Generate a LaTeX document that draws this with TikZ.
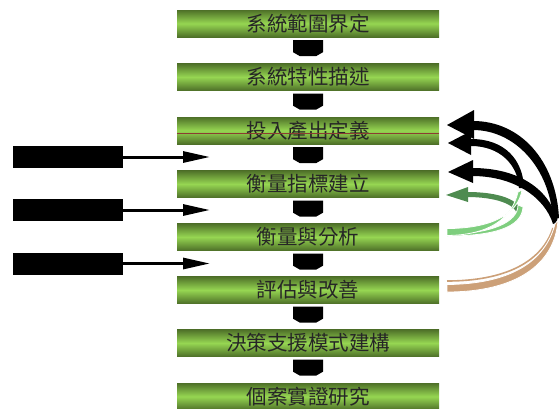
\documentclass[tikz,border=0pt]{standalone}
\usepackage{fontspec}
\newfontfamily\cjk{Noto Sans CJK TC}
\usetikzlibrary{calc,arrows.meta}
\definecolor{gdark}{RGB}{78,112,40}
\definecolor{glight}{RGB}{150,214,82}
\definecolor{arrgreen}{RGB}{78,139,80}
\definecolor{lightgrn}{RGB}{126,206,126}
\definecolor{tan}{RGB}{204,160,120}
\definecolor{redline}{RGB}{140,60,50}
\begin{document}
\begin{tikzpicture}[x=1pt,y=-1pt,
  stage/.style={minimum width=262pt,minimum height=27pt,inner sep=0pt,
    top color=gdark,bottom color=gdark,middle color=glight,
    font=\cjk\fontsize{20.5}{20.5}\selectfont,text=black!85},
  blk/.style={fill=black,minimum width=110pt,minimum height=22pt,inner sep=0pt},
  feed/.style={line width=3pt,-{Triangle[length=27pt,width=11pt]}},
  downblk/.style={fill=black}]
\useasboundingbox (0,0) rectangle (559,408);
\clip (0,0) rectangle (559,408);
% stages
\node[stage] (s1) at (308,23.5) {系統範圍界定};
\node[stage] (s2) at (308,77) {系統特性描述};
\node[stage] (s3) at (308,130.5) {投入產出定義};
\node[stage] (s4) at (308,184) {衡量指標建立};
\node[stage] (s5) at (308,237) {衡量與分析};
\node[stage] (s6) at (308,290) {評估與改善};
\node[stage] (s7) at (308,343) {決策支援模式建構};
\node[stage] (s8) at (308,396.5) {個案實證研究};
\draw[redline,line width=0.6pt] (s3.west|-0,133) -- (s3.east|-0,133);
% down block arrows
\foreach \i in {1,...,7}{
  \fill[downblk] ($(s\i.south)+(-15,3)$) -- ($(s\i.south)+(15,3)$) -- ($(s\i.south)+(15,15)$)
    -- ($(s\i.south)+(8,19)$) -- ($(s\i.south)+(-8,19)$) -- ($(s\i.south)+(-15,15)$) -- cycle;
}
% left inputs
\node[blk] (l1) at (68,157) {};
\node[blk] (l2) at (68,210) {};
\node[blk] (l3) at (68,263.5) {};
\coordinate (t1) at (210,157);
\coordinate (t2) at (210,210);
\coordinate (t3) at (210,263.5);
\draw[feed] (l1.east) -- (t1);
\draw[feed] (l2.east) -- (t2);
\draw[feed] (l3.east) -- (t3);
% feedback arrows (right side)
% arrow A (top black)
\fill[black] (473,121) .. controls (520,121) and (556,160) .. (559,218)
  -- (553,220) .. controls (550,168) and (515,130) .. (473,130) -- cycle;
\fill[black] (447,125) -- (474,110) -- (474,139) -- cycle;
% arrow B
\fill[black] (471,139) .. controls (505,139) and (523,160) .. (524,188)
  -- (519,188) .. controls (518,165) and (500,146) .. (471,146) -- cycle;
\fill[black] (448,143) -- (471,131) -- (471,155) -- cycle;
% arrow C
\fill[black] (472,168) .. controls (520,168) and (550,190) .. (558,222)
  -- (553,224) .. controls (545,198) and (515,176) .. (472,176) -- cycle;
\fill[black] (448,172) -- (473,160) -- (473,183) -- cycle;
% green arrow
\fill[arrgreen] (467,192) .. controls (500,192) and (520,200) .. (522,213)
  -- (517,214) .. controls (515,204) and (495,197) .. (467,197) -- cycle;
\fill[arrgreen] (446,195) -- (468,187) -- (468,202) -- cycle;
\filldraw[lightgrn,draw=white,line width=0.8pt] (447,236) .. controls (492,236) and (522,228) .. (523,207)
  -- (518,205) .. controls (518,222) and (492,234) .. (447,234) -- cycle;
\filldraw[lightgrn,draw=white,line width=0.8pt] (447,228.5) .. controls (490,228.5) and (518,215) .. (522,190)
  -- (518,192) .. controls (512,218) and (490,235) .. (447,235.5) -- cycle;
% tan band
\draw[tan,line width=1.6pt] (447,281) .. controls (505,281) and (542,262) .. (553,228);
\filldraw[tan,draw=white,line width=0.8pt] (447,292) .. controls (515,292) and (555,265) .. (558,220)
  -- (555,224) .. controls (545,262) and (510,284) .. (447,284.5) -- cycle;
\end{tikzpicture}
\end{document}
